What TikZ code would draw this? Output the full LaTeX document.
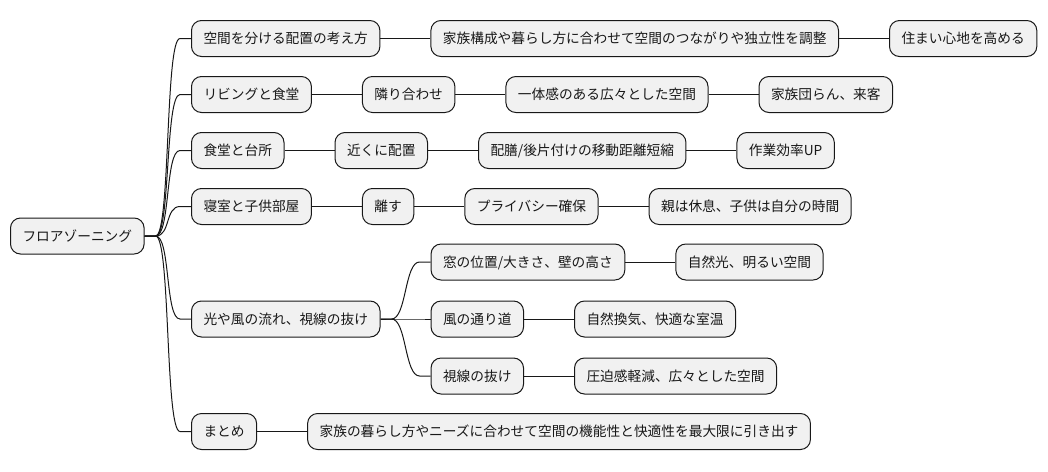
\documentclass[tikz,border=0pt]{standalone}
\usepackage{fontspec}
\setmainfont{Noto Sans CJK JP}
\usetikzlibrary{positioning}
\definecolor{zfill}{HTML}{F1F1F1}
\definecolor{zline}{HTML}{181818}
\tikzset{
zone/.style={
  rectangle,
  rounded corners=10pt,
  inner xsep=12pt,
  inner ysep=0pt,
  minimum height=36pt,
  text height=12pt,
  text depth=1.6pt,
  draw=zline,
  fill=zfill,
  font=\fontsize{13.7}{16}\selectfont
  },
br/.style={
  to path={(\tikztostart.east) -- ++(11pt,0)
    .. controls +(15pt,0) and +(-15pt,0) .. ([xshift=-11pt]\tikztotarget.west)
    -- (\tikztotarget.west)}
  }
}
\begin{document}
\begin{tikzpicture}[x=1pt,y=-1pt,node distance=50pt,line width=1pt,color=zline]
    \useasboundingbox (0,0) rectangle (1048,471);
    \node[zone,anchor=west] (r) at (10,236) {フロアゾーニング};
    % first level
    \node[zone,anchor=west] (a) at (191,38.5) {空間を分ける配置の考え方};
    \node[zone,anchor=west] (b) at (191,94.5) {リビングと食堂};
    \node[zone,anchor=west] (c) at (191,150.5) {食堂と台所};
    \node[zone,anchor=west] (d) at (191,206.5) {寝室と子供部屋};
    \node[zone,anchor=west] (e) at (191,319) {光や風の流れ、視線の抜け};
    \node[zone,anchor=west] (f) at (191,431.5) {まとめ};
    % branches
    \node[zone] (a1) [right=of a] {家族構成や暮らし方に合わせて空間のつながりや独立性を調整};
    \node[zone] (a2) [right=of a1] {住まい心地を高める};
    \node[zone] (b1) [right=of b] {隣り合わせ};
    \node[zone] (b2) [right=of b1] {一体感のある広々とした空間};
    \node[zone] (b3) [right=of b2] {家族団らん、来客};
    \node[zone] (c1) [right=of c] {近くに配置};
    \node[zone] (c2) [right=of c1] {配膳/後片付けの移動距離短縮};
    \node[zone] (c3) [right=of c2] {作業効率UP};
    \node[zone] (d1) [right=of d] {離す};
    \node[zone] (d2) [right=of d1] {プライバシー確保};
    \node[zone] (d3) [right=of d2] {親は休息、子供は自分の時間};
    \node[zone] (e2) [right=of e] {風の通り道};
    \node[zone] (e1) [above=20pt of e2.north west,anchor=south west] {窓の位置/大きさ、壁の高さ};
    \node[zone] (e3) [below=20pt of e2.south west,anchor=north west] {視線の抜け};
    \node[zone] (e11) [right=of e1] {自然光、明るい空間};
    \node[zone] (e21) [right=of e2] {自然換気、快適な室温};
    \node[zone] (e31) [right=of e3] {圧迫感軽減、広々とした空間};
    \node[zone] (f1) [right=of f] {家族の暮らし方やニーズに合わせて空間の機能性と快適性を最大限に引き出す};
    \path
    (r) edge[br] (a)
    (r) edge[br] (b)
    (r) edge[br] (c)
    (r) edge[br] (d)
    (r) edge[br] (e)
    (r) edge[br] (f)
    (e) edge[br] (e1)
    (e) edge[br] (e2)
    (e) edge[br] (e3)
    (a) edge (a1) (a1) edge (a2)
    (b) edge (b1) (b1) edge (b2) (b2) edge (b3)
    (c) edge (c1) (c1) edge (c2) (c2) edge (c3)
    (d) edge (d1) (d1) edge (d2) (d2) edge (d3)
    (e1) edge (e11) (e2) edge (e21) (e3) edge (e31)
    (f) edge (f1)
    ;
\end{tikzpicture}
\end{document}
